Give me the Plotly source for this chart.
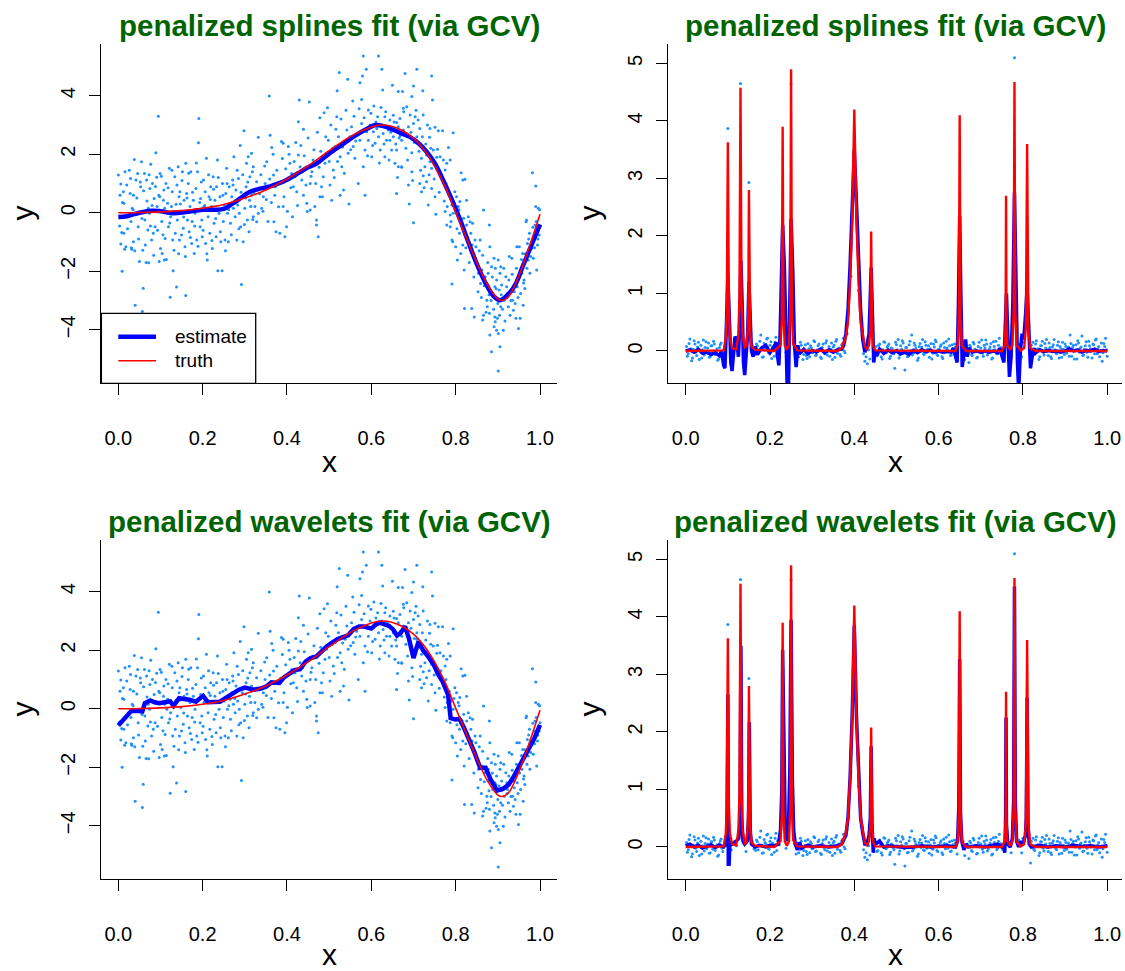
import plotly.graph_objects as go

# ---------------- data: smooth example (left panels) ----------------
left_pts = [
(0.000,1.29),(0.004,0.60),(0.006,0.98),(0.012,0.72),(0.013,0.32),(0.008,-0.68),(0.006,-1.07),(0.013,-0.70),(0.018,-1.16),(0.009,-2.00),(0.016,1.40),(0.024,-0.14),(0.028,0.66),(0.029,1.17),(0.032,-1.25),(0.036,-0.99),(0.036,0.60),(0.033,0.15),(0.030,-0.30),
(0.038,1.82),(0.040,-3.16),(0.042,1.12),(0.046,1.34),(0.047,-0.48),(0.050,-1.67),(0.053,0.89),(0.055,1.74),(0.057,-3.38),(0.058,-1.28),(0.059,-2.58),(0.062,1.34),(0.063,-0.25),(0.066,-1.70),(0.067,1.12),(0.070,-0.59),(0.071,0.15),(0.072,-1.71),(0.074,-0.02),(0.075,0.83),(0.077,1.66),(0.079,-0.93),(0.081,1.00),(0.083,-0.70),
(0.085,0.49),(0.087,-0.48),(0.089,2.05),(0.091,1.21),(0.092,0.21),(0.095,3.30),(0.096,0.60),(0.097,-1.67),(0.099,1.34),(0.100,-1.22),(0.103,-0.30),(0.104,-1.39),(0.107,0.43),(0.108,0.78),(0.109,-1.62),(0.111,-0.88),(0.113,1.00),(0.115,-0.02),(0.117,0.32),(0.119,-0.48),(0.121,1.52),(0.123,-2.89),(0.124,-0.14),(0.126,0.21),(0.128,0.72),(0.129,-0.93),(0.130,-1.98),
(0.132,-1.28),(0.134,1.23),(0.137,0.29),(0.138,-2.54),(0.140,-0.25),(0.142,1.57),(0.144,0.55),(0.145,-0.93),(0.146,0.72),(0.148,0.04),(0.150,-0.76),(0.152,1.40),(0.154,-0.53),(0.156,0.43),(0.158,-1.16),(0.160,-2.83),(0.160,1.69),(0.162,0.66),(0.164,-0.25),(0.166,1.00),(0.168,-0.65),(0.170,0.21),(0.172,1.40),(0.174,-1.05),(0.175,-0.30),(0.178,0.43),
(0.180,-1.39),(0.182,-0.02),(0.184,0.83),(0.186,-0.93),(0.188,1.40),(0.190,2.39),(0.191,3.22),(0.194,-0.48),(0.195,0.49),(0.198,-0.25),(0.199,-0.82),(0.202,1.12),(0.203,0.21),(0.206,0.72),(0.207,-1.05),(0.209,1.86),(0.211,-1.62),(0.213,-0.14),(0.215,0.55),(0.217,-0.70),(0.219,0.89),(0.221,0.21),(0.223,-1.22),(0.225,1.23),
(0.227,-0.36),(0.229,0.43),(0.232,-0.82),(0.233,0.89),(0.235,1.80),(0.236,-1.98),(0.239,-0.02),(0.241,0.55),(0.243,-0.99),(0.246,-1.98),(0.247,1.00),(0.249,-0.30),(0.251,0.26),(0.253,-0.93),(0.255,0.66),(0.257,1.52),(0.259,-0.02),(0.261,-0.99),(0.263,0.89),(0.265,0.32),(0.266,-0.36),(0.269,0.55),(0.271,1.12),(0.273,0.15),
(0.274,1.91),(0.277,-0.14),(0.279,0.78),(0.281,-0.93),(0.283,0.26),(0.285,1.17),(0.287,-0.02),(0.289,2.30),(0.290,-0.48),(0.292,-2.45),(0.294,0.55),(0.296,-0.99),(0.298,2.80),(0.300,0.15),(0.303,0.89),(0.304,1.69),(0.306,-0.25),(0.308,1.91),(0.311,0.43),(0.312,1.23),(0.314,0.21),(0.316,0.78),(0.318,1.40),(0.320,-0.14),(0.322,0.66),
(0.581,5.36),(0.617,5.36),(0.588,4.90),(0.524,4.79),(0.579,4.67),(0.625,4.90),(0.544,4.56),(0.573,4.44),(0.358,3.99),(0.627,4.19),(0.650,4.36),(0.664,4.14),(0.519,4.17),(0.429,3.85),(0.453,3.78),(0.439,2.85),(0.427,3.11),(0.488,3.42),(0.496,3.59),(0.478,3.25),(0.518,3.28),(0.556,3.82),(0.577,3.87),(0.593,3.51),(0.606,3.65),(0.615,3.28),(0.632,3.28),(0.638,2.92),(0.652,3.33),(0.660,3.08),(0.676,3.57),(0.668,2.62),(0.644,2.48),(0.660,2.14),(0.664,1.57),(0.672,1.55),(0.660,0.66),(0.585,0.60),(0.547,0.30),
(0.316,2.03),(0.332,2.58),(0.320,1.57),(0.328,1.06),(0.316,0.60),(0.324,0.21),(0.332,-0.02),(0.328,-0.31),(0.319,-0.23),(0.340,0.15),(0.344,0.55),(0.348,1.00),(0.352,1.74),(0.360,2.65),(0.364,2.23),(0.368,1.29),(0.372,0.89),(0.369,-0.31),(0.374,-0.65),(0.383,-0.70),(0.391,0.21),(0.395,-0.82),(0.399,-0.48),(0.387,2.43),(0.403,2.26),(0.391,2.37),(0.407,1.69),(0.411,1.34),(0.415,0.89),(0.413,-0.14),(0.419,1.23),(0.423,0.72),(0.427,1.97),(0.431,1.57),(0.435,1.12),(0.439,0.60),(0.447,0.32),(0.448,0.04),(0.455,1.00),(0.459,1.40),(0.462,1.80),(0.466,0.21),(0.470,-0.42),(0.474,-0.82),(0.478,0.55),(0.482,0.89),(0.486,1.23),(0.490,1.69),(0.494,2.03),(0.498,2.48),(0.502,0.95),(0.506,0.43),(0.510,1.46),(0.514,2.26),(0.522,2.60),(0.526,1.91),(0.530,1.57),(0.534,0.78),(0.526,0.60),(0.538,2.37),(0.542,2.83),(0.545,2.03),(0.549,2.60),(0.553,2.94),(0.557,2.26),(0.561,1.86),(0.565,2.65),(0.569,1.00),(0.573,2.48),(0.577,3.05),(0.581,1.57),(0.585,2.14),(0.589,2.77),(0.593,2.48),(0.597,3.00),(0.601,1.91),(0.605,2.77),(0.609,2.37),(0.613,2.88),(0.617,2.60),(0.621,2.14),(0.625,3.00),(0.628,2.71),(0.632,1.91),(0.636,2.48),(0.640,2.83),(0.644,3.17),(0.648,2.14),(0.652,2.60),(0.656,1.69),(0.664,2.94),(0.668,3.22),(0.672,2.48),(0.676,2.83),(0.455,0.09),(0.470,-0.25),
(0.680,4.76),(0.708,4.90),(0.743,4.67),(0.674,4.14),(0.722,4.17),(0.700,4.33),(0.696,3.97),(0.745,3.85),(0.684,3.62),(0.692,3.34),(0.677,3.45),(0.704,3.28),(0.711,3.17),(0.723,3.34),(0.688,2.94),(0.700,3.05),(0.715,2.88),(0.739,2.88),(0.751,2.92),(0.759,2.80),(0.769,2.80),(0.794,2.73),(0.708,2.60),(0.738,2.58),(0.783,2.23),(0.672,1.57),(0.696,2.05),(0.696,1.40),(0.708,2.37),(0.719,1.86),(0.727,1.57),(0.731,1.97),(0.739,1.74),(0.743,1.52),(0.747,2.14),(0.757,2.17),(0.763,1.91),(0.771,1.80),(0.775,1.46),(0.779,1.69),(0.787,1.80),(0.715,1.00),(0.723,1.26),(0.731,1.06),(0.743,0.83),(0.751,0.55),(0.753,-0.05),(0.735,0.26),(0.700,-0.34),(0.690,0.30),(0.688,0.95),(0.719,0.72),
(0.775,0.04),(0.780,0.21),(0.787,-0.08),(0.791,0.26),(0.794,-0.02),(0.798,0.72),(0.802,0.55),(0.806,0.21),(0.810,0.38),(0.813,1.37),(0.817,1.12),(0.822,1.14),(0.826,0.43),(0.819,-0.19),(0.787,-0.48),(0.779,-0.42),(0.791,-0.93),(0.793,-0.99),(0.800,-1.16),(0.804,-1.62),(0.809,-0.70),(0.812,-1.39),(0.817,-1.10),(0.820,-1.96),(0.822,-0.70),(0.826,-0.42),(0.830,-0.14),(0.834,-0.31),(0.836,-0.70),(0.840,-0.36),(0.842,-1.39),(0.846,-0.93),(0.848,-1.16),(0.851,-1.73),(0.791,-2.44),(0.854,-2.07),(0.858,-0.93),(0.859,-2.42),(0.862,-1.96),(0.864,-1.45),(0.866,0.09),(0.870,-2.19),(0.874,-2.99),(0.877,-2.07),(0.880,-0.42),(0.881,-1.16),(0.885,-1.85),(0.888,-2.76),(0.891,-1.56),(0.893,-2.53),(0.894,-1.90),(0.897,-2.30),(0.901,-1.62),(0.903,-2.64),(0.905,-2.07),(0.907,-1.85),
(0.821,-3.27),(0.838,-3.27),(0.844,-3.56),(0.864,-3.67),(0.866,-3.50),(0.875,-3.21),(0.877,-2.47),(0.880,-3.44),(0.881,-4.18),(0.885,-4.75),(0.891,-3.90),(0.893,-3.56),(0.894,-3.73),(0.897,-4.02),(0.899,-3.61),(0.901,-5.41),(0.901,-4.13),(0.905,-4.58),(0.907,-3.21),(0.909,-2.47),(0.913,-4.02),(0.915,-2.99),(0.919,-2.19),(0.921,-2.53),(0.923,-2.76),(0.925,-3.21),(0.927,-1.50),(0.929,-3.50),(0.933,-1.56),(0.935,-2.99),(0.937,-3.33),(0.938,-2.47),(0.941,-3.10),(0.943,-3.61),(0.945,-1.16),(0.946,-2.53),(0.949,-3.96),(0.951,-1.16),(0.953,-3.61),(0.954,-2.76),(0.957,-2.07),(0.959,-1.39),(0.960,-3.16),(0.962,-2.30),(0.964,-2.59),(0.967,-0.31),(0.968,-0.25),(0.970,-1.05),(0.972,-1.62),(0.975,-0.70),(0.976,-2.07),(0.980,-1.22),(0.982,1.37),(0.984,-1.56),(0.986,-0.76),(0.988,-0.42),(0.990,0.91),(0.990,0.21),(0.992,-1.96),(0.994,-1.10),(0.996,0.15),(0.998,-0.76),(1.000,-0.48),
# second reading pass
(0.003,-0.45),(0.010,0.35),(0.015,-1.25),(0.020,0.95),(0.022,-0.55),(0.026,1.45),(0.031,-1.2),(0.035,0.1),(0.039,-1.3),(0.044,0.5),(0.048,-0.9),(0.052,1.05),(0.056,-0.2),(0.060,0.75),(0.064,-1.1),(0.068,0.4),(0.073,1.3),(0.076,-0.45),(0.080,0.25),(0.084,-1.45),(0.088,0.9),(0.093,-0.6),(0.098,0.55),(0.102,1.25),(0.106,-0.75),(0.110,0.15),(0.114,-1.6),(0.118,0.85),(0.122,-0.35),(0.127,1.45),(0.131,0.05),(0.135,-0.7),(0.139,0.95),(0.143,-1.4),(0.147,0.3),(0.151,1.1),(0.155,-0.15),(0.159,-1.5),(0.163,0.5),(0.167,1.35),(0.171,-0.85),(0.176,0.7),(0.181,-0.45),(0.185,1.7),(0.189,-1.15),(0.193,0.35),(0.197,1.05),(0.201,-0.6),(0.205,0.25),(0.210,-1.4),(0.214,1.3),(0.218,0.45),(0.222,-0.95),(0.226,0.8),(0.231,-0.2),(0.237,1.2),(0.242,-0.65),(0.248,0.6),(0.254,-1.3),(0.258,1.0),(0.262,0.1),(0.268,-0.75),(0.272,0.95),(0.276,0.35),(0.282,1.45),(0.286,-0.55),(0.291,0.7),(0.295,1.3),(0.299,-0.4),(0.302,0.5),(0.307,1.05),(0.310,-0.65),
(0.335,0.65),(0.338,1.3),(0.343,0.05),(0.347,1.6),(0.351,0.45),(0.355,-0.3),(0.359,1.15),(0.363,0.35),(0.367,2.0),(0.371,0.6),(0.376,1.45),(0.380,0.2),(0.385,1.05),(0.389,1.85),(0.393,0.55),(0.397,1.5),(0.401,0.05),(0.405,2.0),(0.409,0.85),(0.417,1.75),(0.421,2.4),(0.425,0.25),(0.433,2.3),(0.437,1.4),(0.441,1.95),(0.445,0.95),(0.450,2.55),(0.457,1.25),(0.464,2.15),(0.468,1.0),(0.472,2.75),(0.476,1.55),(0.480,2.1),(0.484,0.55),(0.492,2.6),(0.500,1.75),(0.504,3.0),(0.508,2.2),(0.512,1.2),(0.516,2.85),(0.520,1.75),(0.528,3.2),(0.532,2.25),(0.536,1.35),(0.540,3.5),(0.551,2.15),(0.559,3.3),(0.563,2.45),(0.571,3.55),(0.583,3.25),(0.591,1.95),(0.599,3.4),(0.603,2.3),(0.611,3.1),(0.619,1.7),(0.623,3.6),(0.630,2.35),(0.634,3.45),(0.642,1.8),(0.646,2.75),(0.654,3.1),(0.658,2.35),(0.662,1.2),(0.666,2.55),
(0.682,2.2),(0.686,1.8),(0.694,2.75),(0.698,1.1),(0.702,2.4),(0.706,3.5),(0.713,2.1),(0.717,1.45),(0.721,2.6),(0.725,0.85),(0.729,2.35),(0.733,3.0),(0.737,1.3),(0.741,2.2),(0.749,1.15),(0.755,1.9),(0.761,0.7),(0.765,1.3),(0.773,0.4),(0.777,1.0),(0.785,0.6),(0.789,-0.3),(0.796,0.35),(0.803,-0.55),(0.808,0.1),
(0.815,-0.4),(0.824,-1.2),(0.828,-0.85),(0.832,-1.7),(0.839,-1.1),(0.843,-2.2),(0.847,-1.55),(0.853,-2.7),(0.856,-1.3),(0.861,-2.9),(0.868,-2.5),(0.872,-3.4),(0.876,-1.7),(0.879,-2.8),(0.884,-3.0),(0.887,-2.2),(0.890,-3.3),(0.896,-2.6),(0.900,-3.1),(0.904,-3.5),(0.908,-2.8),(0.911,-3.3),(0.914,-1.9),(0.917,-3.7),(0.922,-2.9),(0.926,-2.3),(0.931,-3.0),(0.934,-2.1),(0.939,-2.7),(0.944,-1.9),(0.948,-2.9),(0.952,-2.2),(0.956,-1.6),(0.961,-2.4),(0.965,-1.4),(0.969,-1.9),(0.973,-0.9),(0.978,-1.5),(0.983,-0.5),(0.987,-1.2),(0.991,-0.3),(0.995,-0.9),(0.999,0.1),
]
left_x = [p[0] for p in left_pts]
left_y = [p[1] for p in left_pts]

left_truth_x = [0.0,0.05,0.1,0.15,0.2,0.25,0.3,0.35,0.4,0.45,0.5,0.55,0.6,0.625,0.65,0.675,0.7,0.725,0.75,0.775,0.8,0.825,0.85,0.875,0.9,0.91,0.925,0.95,0.975,1.0]
left_truth_y = [0.0,0.01,0.03,0.07,0.15,0.28,0.5,0.78,1.15,1.6,2.12,2.6,2.93,3.0,2.95,2.8,2.55,2.15,1.6,0.9,0.02,-0.85,-1.7,-2.45,-2.95,-3.0,-2.88,-2.15,-1.15,-0.05]

spline_est_x = [0.0,0.02,0.05,0.08,0.1,0.13,0.16,0.2,0.23,0.25,0.27,0.29,0.31,0.33,0.36,0.38,0.4,0.43,0.45,0.47,0.5,0.53,0.56,0.59,0.61,0.63,0.65,0.67,0.69,0.71,0.73,0.75,0.77,0.79,0.81,0.83,0.85,0.87,0.89,0.905,0.92,0.94,0.96,0.98,1.0]
spline_est_y = [-0.15,-0.12,0.0,0.07,0.05,-0.02,0.02,0.1,0.1,0.13,0.3,0.5,0.7,0.8,0.9,1.0,1.13,1.38,1.55,1.68,2.02,2.32,2.62,2.87,3.0,2.95,2.85,2.72,2.6,2.4,2.1,1.7,1.12,0.48,-0.22,-1.0,-1.75,-2.38,-2.85,-2.99,-2.85,-2.5,-1.8,-1.1,-0.4]

wave_est_x = [0.0,0.017,0.03,0.04,0.05,0.057,0.063,0.076,0.086,0.097,0.11,0.123,0.131,0.144,0.156,0.169,0.184,0.201,0.213,0.228,0.241,0.254,0.27,0.286,0.3,0.313,0.321,0.338,0.351,0.363,0.376,0.382,0.393,0.406,0.418,0.431,0.444,0.456,0.469,0.482,0.494,0.507,0.52,0.533,0.545,0.558,0.571,0.583,0.6,0.609,0.619,0.63,0.642,0.651,0.661,0.669,0.68,0.689,0.7,0.712,0.723,0.735,0.748,0.759,0.769,0.782,0.788,0.799,0.809,0.82,0.833,0.845,0.858,0.871,0.883,0.898,0.913,0.926,0.938,0.955,0.972,0.987,1.0]
wave_est_y = [-0.57,-0.32,-0.09,-0.07,-0.09,-0.09,0.19,0.28,0.22,0.19,0.22,0.25,0.1,0.36,0.33,0.31,0.24,0.44,0.22,0.22,0.24,0.36,0.51,0.65,0.72,0.69,0.65,0.69,0.76,0.9,0.91,0.88,1.07,1.22,1.32,1.35,1.61,1.73,1.78,1.95,2.13,2.26,2.38,2.45,2.51,2.72,2.81,2.81,2.74,2.86,2.94,2.89,2.83,2.72,2.5,2.58,2.81,2.41,1.73,2.3,1.99,1.78,1.5,1.16,0.93,0.48,-0.32,-0.37,-0.35,-0.66,-1.06,-1.51,-2.02,-2.02,-2.42,-2.8,-2.73,-2.59,-2.31,-1.85,-1.4,-1.0,-0.55]

# ---------------- data: bumps example (right panels) ----------------
right_pts = [
(0.002,0.08),(0.006,-0.05),(0.010,0.21),(0.014,-0.17),(0.018,0.03),(0.022,0.12),(0.026,-0.08),(0.030,0.15),(0.034,0.01),(0.038,-0.12),(0.042,0.19),(0.046,0.06),(0.050,-0.03),(0.054,0.14),(0.058,-0.10),(0.062,0.09),(0.066,0.17),(0.070,-0.06),(0.074,0.04),(0.078,-0.14),(0.082,0.11),(0.086,-0.02),
(0.092,0.05),(0.095,0.12),(0.100,3.87),(0.108,-0.05),(0.116,0.10),(0.120,0.02),(0.130,4.65),(0.138,0.06),(0.143,-0.08),(0.150,2.93),(0.158,0.10),(0.162,-0.03),
(0.166,-0.06),(0.170,0.09),(0.174,0.02),(0.178,0.28),(0.182,-0.11),(0.186,0.13),(0.190,0.05),(0.194,0.22),(0.198,-0.04),(0.202,0.16),(0.206,0.07),(0.210,-0.09),(0.214,0.24),(0.218,0.11),
(0.222,0.04),(0.238,-0.02),(0.243,0.15),(0.250,4.65),(0.258,0.06),
(0.262,-0.12),(0.266,0.05),(0.270,-0.04),(0.274,0.10),(0.278,-0.15),(0.282,0.02),(0.286,-0.08),(0.290,0.13),(0.294,-0.10),(0.298,0.06),(0.302,-0.02),(0.306,0.16),(0.310,-0.07),(0.314,0.09),(0.318,0.03),(0.322,-0.13),(0.326,0.12),(0.330,-0.05),(0.334,0.18),(0.338,0.00),(0.342,-0.09),(0.346,0.14),(0.350,0.07),(0.354,-0.11),(0.358,0.20),(0.362,0.04),(0.366,-0.06),(0.370,0.11),(0.374,0.22),(0.378,-0.03),
(0.383,0.30),(0.392,1.30),(0.410,1.05),(0.418,0.35),(0.422,-0.05),(0.425,-0.18),(0.428,-0.10),(0.431,-0.22),(0.434,0.02),(0.437,-0.14),(0.447,-0.08),
(0.452,0.08),(0.456,-0.06),(0.460,0.12),(0.464,-0.10),(0.468,0.02),(0.472,0.15),(0.476,-0.03),(0.480,0.09),(0.484,-0.13),(0.488,0.05),(0.492,-0.01),(0.496,-0.30),(0.500,0.11),(0.504,0.20),(0.508,-0.07),(0.512,0.03),(0.516,0.14),(0.520,-0.33),(0.524,0.06),(0.528,-0.09),(0.532,0.17),(0.536,0.28),(0.540,-0.04),(0.544,0.10),(0.548,0.01),(0.552,-0.12),(0.556,0.13),(0.560,0.07),(0.564,-0.05),(0.568,0.16),(0.572,-0.02),(0.576,0.09),(0.580,0.04),(0.584,-0.14),(0.588,0.12),(0.592,0.19),(0.596,-0.06),(0.600,0.03),(0.604,0.08),(0.608,-0.10),(0.612,0.14),(0.616,-0.03),(0.620,0.05),(0.624,0.21),(0.628,-0.08),(0.632,0.11),(0.636,0.00),(0.640,0.07),
(0.644,-0.12),(0.658,0.10),(0.662,-0.15),(0.668,0.05),
(0.672,-0.20),(0.676,0.07),(0.680,-0.08),(0.684,0.12),(0.688,0.02),(0.692,-0.11),(0.696,0.15),(0.700,0.05),(0.704,-0.04),(0.708,0.10),(0.712,0.19),(0.716,-0.07),(0.720,0.03),(0.724,0.13),(0.728,-0.12),(0.732,0.08),(0.736,0.17),(0.740,-0.02),(0.744,0.22),(0.748,0.06),
(0.752,-0.05),(0.768,0.08),(0.772,-0.10),(0.780,5.10),(0.790,0.12),(0.797,-0.10),(0.800,0.15),(0.818,-0.28),(0.820,0.10),
(0.824,0.15),(0.828,-0.06),(0.832,0.18),(0.836,0.04),(0.840,-0.10),(0.844,0.09),(0.848,-0.02),(0.852,0.13),(0.856,0.20),(0.860,-0.08),(0.864,0.06),(0.868,-0.13),(0.872,0.11),(0.876,0.02),(0.880,-0.05),(0.884,0.16),(0.888,0.08),(0.892,-0.11),(0.896,0.03),(0.900,0.12),(0.904,-0.04),(0.908,0.07),(0.912,0.28),(0.916,-0.09),(0.920,0.10),(0.924,0.00),(0.928,-0.14),(0.932,0.14),(0.936,0.05),(0.940,0.26),(0.944,-0.07),(0.948,0.09),(0.952,-0.02),(0.956,0.17),(0.960,0.04),(0.964,-0.12),(0.968,0.11),(0.972,0.19),(0.976,-0.05),(0.980,0.08),(0.984,0.00),(0.988,-0.18),(0.992,0.13),(0.996,0.22),(1.000,-0.09),
# second reading pass
(0.004,-0.09),(0.008,0.13),(0.012,0.04),(0.016,-0.12),(0.020,0.18),(0.024,-0.02),(0.028,0.07),(0.032,-0.15),(0.036,0.10),(0.040,0.02),(0.044,-0.07),(0.048,0.16),(0.052,0.05),(0.056,-0.11),(0.060,0.09),(0.064,-0.04),(0.068,0.12),(0.072,0.00),(0.076,-0.16),(0.080,0.06),(0.084,0.14),(0.088,-0.08),
(0.168,0.12),(0.172,-0.05),(0.176,0.17),(0.180,0.03),(0.184,-0.10),(0.188,0.08),(0.192,0.21),(0.196,-0.02),(0.200,0.10),(0.204,-0.13),(0.208,0.04),(0.212,0.15),(0.216,-0.06),
(0.264,0.07),(0.268,-0.10),(0.272,0.15),(0.276,0.01),(0.280,-0.06),(0.284,0.11),(0.288,-0.13),(0.292,0.04),(0.296,0.09),(0.300,-0.03),(0.304,0.18),(0.308,-0.08),(0.312,0.02),(0.316,0.12),(0.320,-0.11),(0.324,0.06),(0.328,-0.01),(0.332,0.14),(0.336,-0.07),(0.340,0.08),(0.344,0.03),(0.348,-0.15),(0.352,0.10),(0.356,0.17),(0.360,-0.04),(0.364,0.05),(0.368,-0.09),(0.372,0.13),(0.376,0.00),
(0.454,-0.08),(0.458,0.10),(0.462,0.03),(0.466,-0.14),(0.470,0.16),(0.474,-0.02),(0.478,0.07),(0.482,0.12),(0.486,-0.09),(0.490,0.04),(0.494,-0.05),(0.498,0.15),(0.502,0.02),(0.506,-0.12),(0.510,0.09),(0.514,0.18),(0.518,-0.03),(0.522,0.06),(0.526,-0.10),(0.530,0.11),(0.534,0.01),(0.538,-0.07),(0.542,0.14),(0.546,0.05),(0.550,-0.16),(0.554,0.08),(0.558,-0.01),(0.562,0.20),(0.566,-0.06),(0.570,0.10),(0.574,0.03),(0.578,-0.11),(0.582,0.13),(0.586,-0.04),(0.590,0.07),(0.594,0.16),(0.598,-0.08),(0.602,0.02),(0.606,0.11),(0.610,-0.13),(0.614,0.06),(0.618,0.17),(0.622,-0.02),(0.626,0.09),(0.630,-0.07),(0.634,0.04),(0.638,0.12),
(0.674,0.10),(0.678,-0.06),(0.682,0.15),(0.686,0.03),(0.690,-0.12),(0.694,0.08),(0.698,0.00),(0.702,0.19),(0.706,-0.09),(0.710,0.05),(0.714,0.12),(0.718,-0.03),(0.722,0.07),(0.726,-0.14),(0.730,0.16),(0.734,0.02),(0.738,-0.05),(0.742,0.10),(0.746,0.04),
(0.826,-0.04),(0.830,0.12),(0.834,0.03),(0.838,-0.15),(0.842,0.09),(0.846,0.17),(0.850,-0.07),(0.854,0.05),(0.858,-0.01),(0.862,0.14),(0.866,-0.10),(0.870,0.07),(0.874,0.20),(0.878,-0.03),(0.882,0.10),(0.886,-0.12),(0.890,0.04),(0.894,0.15),(0.898,-0.06),(0.902,0.08),(0.906,0.01),(0.910,-0.09),(0.914,0.13),(0.918,0.06),(0.922,-0.14),(0.926,0.11),(0.930,0.18),(0.934,-0.02),(0.938,0.07),(0.942,-0.08),(0.946,0.03),(0.950,0.16),(0.954,-0.11),(0.958,0.09),(0.962,0.00),(0.966,0.12),(0.970,-0.05),(0.974,0.21),(0.978,0.04),(0.982,-0.10),(0.986,0.14),(0.990,-0.03),(0.994,0.08),(0.998,0.02),
]
right_x = [p[0] for p in right_pts]
right_y = [p[1] for p in right_pts]

bumps_truth = [
(0.0,0.0),(0.09,0.01),(0.095,0.23),(0.0975,0.72),(0.1,3.63),(0.1025,0.72),(0.105,0.23),(0.11,0.05),
(0.12,0.03),(0.125,0.29),(0.1275,0.91),(0.13,4.58),(0.1325,0.91),(0.135,0.29),(0.14,0.06),
(0.144,0.08),(0.147,0.35),(0.1485,0.72),(0.15,2.8),(0.1515,0.72),(0.153,0.35),(0.156,0.08),(0.165,0.02),
(0.21,0.0),(0.225,0.1),(0.228,0.6),(0.23,3.9),(0.232,0.6),(0.235,0.1),(0.24,0.02),(0.245,0.1),(0.248,0.7),(0.25,4.9),(0.252,0.7),(0.255,0.12),(0.265,0.01),
(0.36,0.0),(0.37,0.05),(0.38,0.25),(0.385,0.5),(0.39,1.2),(0.395,2.3),(0.4,4.2),(0.405,2.3),(0.41,1.2),(0.415,0.5),(0.42,0.25),(0.425,0.08),(0.43,0.03),
(0.435,0.1),(0.438,0.4),(0.44,2.08),(0.442,0.4),(0.445,0.08),(0.45,0.01),
(0.64,0.0),(0.645,0.1),(0.648,0.6),(0.65,4.1),(0.652,0.6),(0.655,0.1),(0.665,0.0),
(0.75,0.0),(0.757,0.1),(0.759,0.5),(0.76,2.7),(0.761,0.5),(0.763,0.1),(0.77,0.02),
(0.775,0.1),(0.778,0.7),(0.78,4.68),(0.782,0.7),(0.785,0.1),(0.795,0.01),
(0.803,0.05),(0.807,0.4),(0.81,3.6),(0.813,0.4),(0.817,0.05),(0.83,0.0),(1.0,0.0),
]
bumps_truth_x = [p[0] for p in bumps_truth]
bumps_truth_y = [p[1] for p in bumps_truth]

bumps_spline = [
(0.0,0.0),(0.01,0.02),(0.02,-0.02),(0.03,0.03),(0.04,-0.04),(0.05,-0.02),(0.06,-0.06),(0.07,-0.03),(0.08,-0.08),(0.085,0.0),(0.09,-0.25),(0.093,-0.3),(0.096,0.3),(0.1,1.3),(0.104,0.5),(0.107,-0.2),(0.11,-0.35),(0.113,0.0),(0.117,0.25),(0.121,0.2),(0.125,-0.1),(0.128,0.4),(0.131,1.57),(0.134,0.8),(0.137,-0.2),(0.14,-0.42),(0.143,-0.1),(0.147,0.3),(0.15,1.2),(0.153,0.6),(0.156,0.0),(0.16,-0.1),(0.165,0.08),(0.17,-0.06),(0.18,0.05),(0.19,0.1),(0.2,-0.03),(0.21,0.08),(0.215,0.15),(0.218,-0.1),(0.221,-0.25),(0.224,0.3),(0.227,1.5),(0.23,2.2),(0.234,1.5),(0.238,0.0),(0.241,-0.7),(0.244,-0.6),(0.247,0.8),(0.25,2.3),(0.254,1.4),(0.258,0.1),(0.262,-0.28),(0.266,0.1),(0.27,-0.05),(0.28,0.03),(0.29,-0.05),(0.3,0.01),(0.31,-0.02),(0.32,0.03),(0.33,-0.03),(0.34,0.02),(0.35,-0.02),(0.36,0.02),(0.37,0.03),(0.375,0.1),(0.38,0.3),(0.385,0.7),(0.39,1.5),(0.395,2.6),(0.4,3.5),(0.405,2.6),(0.41,1.5),(0.415,0.7),(0.42,0.2),(0.425,-0.02),(0.43,0.1),(0.435,0.3),(0.44,1.45),(0.443,0.5),(0.446,-0.2),(0.45,0.0),(0.455,-0.05),(0.46,0.03),(0.47,-0.04),(0.48,0.02),(0.49,-0.03),(0.5,0.0),(0.51,-0.05),(0.52,-0.02),(0.53,-0.06),(0.54,0.01),(0.55,-0.03),(0.56,0.02),(0.57,-0.01),(0.58,0.01),(0.59,-0.02),(0.6,0.0),(0.61,-0.02),(0.62,0.0),(0.63,-0.02),(0.635,0.05),(0.64,-0.1),(0.644,-0.2),(0.647,0.8),(0.65,2.35),(0.653,0.9),(0.656,-0.28),(0.66,-0.05),(0.664,0.2),(0.668,-0.1),(0.672,0.05),(0.68,-0.02),(0.69,0.0),(0.7,-0.02),(0.71,0.0),(0.72,-0.02),(0.73,0.0),(0.74,-0.03),(0.745,0.05),(0.75,-0.08),(0.755,-0.2),(0.758,0.4),(0.761,1.0),(0.764,0.3),(0.768,-0.45),(0.772,-0.1),(0.776,0.8),(0.78,2.75),(0.783,1.2),(0.787,-0.2),(0.79,-0.7),(0.794,0.0),(0.798,0.3),(0.802,0.2),(0.806,0.6),(0.81,1.1),(0.814,0.4),(0.818,-0.3),(0.822,-0.1),(0.826,0.05),(0.83,-0.03),(0.84,0.02),(0.85,-0.01),(0.86,0.01),(0.87,-0.01),(0.88,0.0),(0.89,-0.02),(0.9,0.0),(0.91,0.04),(0.92,0.0),(0.93,0.02),(0.94,-0.02),(0.95,0.01),(0.96,0.0),(0.97,0.03),(0.98,-0.01),(0.99,0.01),(1.0,0.0),
]
bumps_spline_x = [p[0] for p in bumps_spline]
bumps_spline_y = [p[1] for p in bumps_spline]

bumps_wave = [
(0.0,0.02),(0.01,0.05),(0.02,0.0),(0.03,0.03),(0.04,-0.02),(0.05,0.01),(0.06,0.04),(0.07,-0.01),(0.08,0.03),(0.09,0.0),(0.096,0.05),(0.098,0.3),(0.1,2.65),(0.101,-0.3),(0.103,-0.3),(0.105,0.1),(0.11,0.05),(0.12,0.1),(0.126,0.15),(0.129,0.5),(0.131,3.5),(0.133,0.5),(0.136,0.1),(0.14,0.05),(0.146,0.1),(0.149,0.5),(0.151,2.17),(0.153,0.3),(0.156,0.05),(0.165,0.0),(0.175,0.03),(0.19,0.0),(0.2,0.03),(0.21,0.02),(0.22,0.05),(0.225,0.3),(0.228,1.0),(0.23,3.43),(0.233,1.2),(0.236,0.4),(0.24,0.1),(0.244,0.4),(0.247,1.3),(0.25,3.95),(0.253,1.2),(0.256,0.3),(0.26,0.05),(0.265,-0.05),(0.27,0.08),(0.275,-0.02),(0.28,0.0),(0.29,0.03),(0.3,0.0),(0.32,0.02),(0.34,0.0),(0.36,0.02),(0.37,0.05),(0.38,0.2),(0.385,0.5),(0.39,1.2),(0.395,2.3),(0.4,3.85),(0.405,2.3),(0.41,1.2),(0.415,0.5),(0.42,0.25),(0.425,0.05),(0.43,0.05),(0.435,0.2),(0.438,0.5),(0.44,1.75),(0.442,0.4),(0.445,-0.1),(0.447,0.15),(0.45,0.05),(0.46,0.1),(0.47,0.0),(0.48,0.02),(0.5,0.0),(0.52,-0.01),(0.54,0.0),(0.56,0.02),(0.58,0.0),(0.6,0.01),(0.62,0.02),(0.64,0.0),(0.645,0.1),(0.648,0.7),(0.65,3.27),(0.652,0.6),(0.655,0.1),(0.66,-0.05),(0.665,0.05),(0.67,0.0),(0.69,0.02),(0.71,0.0),(0.73,0.03),(0.74,0.05),(0.75,0.0),(0.755,0.05),(0.757,-0.1),(0.759,0.5),(0.76,2.25),(0.761,0.4),(0.764,0.05),(0.77,0.0),(0.775,0.15),(0.778,0.8),(0.78,4.53),(0.782,0.8),(0.785,0.1),(0.79,0.0),(0.795,0.1),(0.8,0.05),(0.806,0.2),(0.808,0.5),(0.81,2.6),(0.812,0.4),(0.815,0.05),(0.82,0.0),(0.84,0.03),(0.86,0.0),(0.88,0.02),(0.9,0.0),(0.92,0.03),(0.94,0.01),(0.96,0.02),(0.98,0.0),(1.0,0.02),
]
bumps_wave_x = [p[0] for p in bumps_wave]
bumps_wave_y = [p[1] for p in bumps_wave]

x_ticks = [0.0, 0.2, 0.4, 0.6, 0.8, 1.0]
x_tick_text = ["0.0", "0.2", "0.4", "0.6", "0.8", "1.0"]
left_y_ticks = [-4, -2, 0, 2, 4]
left_y_text = ["\u22124", "\u22122", "0", "2", "4"]
right_y_ticks = [0, 1, 2, 3, 4, 5]
right_y_text = ["0", "1", "2", "3", "4", "5"]
titles = ["penalized splines fit (via GCV)", "penalized splines fit (via GCV)",
          "penalized wavelets fit (via GCV)", "penalized wavelets fit (via GCV)"]

# ---------------- layout geometry ----------------
W, H = 1125, 971
FONT = "Liberation Sans, Arial, Helvetica, sans-serif"
PT = "#1E90FF"

def fx(p):
    return p / W

def fy(p):
    return 1 - p / H

xL = [fx(101.4), fx(556.7)]
xR = [fx(668.3), fx(1122.0)]
yT = [fy(383.3), fy(43.6)]
yB = [fy(879.3), fy(539.6)]

fig = go.Figure()

panels = [
    ("x", "y", left_x, left_y, spline_est_x, spline_est_y, left_truth_x, left_truth_y, 4.5, 1.6, "spline"),
    ("x2", "y2", right_x, right_y, bumps_spline_x, bumps_spline_y, bumps_truth_x, bumps_truth_y, 3.5, 2.4, "linear"),
    ("x3", "y3", left_x, left_y, wave_est_x, wave_est_y, left_truth_x, left_truth_y, 4.5, 1.6, "linear"),
    ("x4", "y4", right_x, right_y, bumps_wave_x, bumps_wave_y, bumps_truth_x, bumps_truth_y, 3.5, 2.4, "linear"),
]
for i, (xa, ya, px_, py_, ex, ey, tx, ty, ew, tw, es) in enumerate(panels):
    fig.add_trace(go.Scatter(x=px_, y=py_, mode="markers", xaxis=xa, yaxis=ya,
                             marker=dict(size=3, color=PT, line=dict(width=0)),
                             showlegend=False, hoverinfo="skip"))
    fig.add_trace(go.Scatter(x=ex, y=ey, mode="lines", xaxis=xa, yaxis=ya,
                             line=dict(color="#0000FF", width=ew, shape=es),
                             showlegend=False, name="estimate"))
    truth_shape = "spline" if i in (0, 2) else "linear"
    fig.add_trace(go.Scatter(x=tx, y=ty, mode="lines", xaxis=xa, yaxis=ya,
                             line=dict(color="#FF0000", width=tw, shape=truth_shape),
                             showlegend=False, name="truth"))

axis_common = dict(showline=True, linecolor="black", linewidth=1.3, ticks="outside",
                   ticklen=11, tickwidth=1.3, tickcolor="black", showgrid=False,
                   zeroline=False, tickfont=dict(family=FONT, size=20, color="black"))

xaxes = {"xaxis": (xL, "y", [-0.0401, 1.0396]), "xaxis2": (xR, "y2", [-0.0413, 1.0351]),
         "xaxis3": (xL, "y3", [-0.0401, 1.0396]), "xaxis4": (xR, "y4", [-0.0413, 1.0351])}
yaxes = {"yaxis": (yT, "x", [-5.83, 5.78], left_y_ticks, left_y_text),
         "yaxis2": (yT, "x2", [-0.562, 5.346], right_y_ticks, right_y_text),
         "yaxis3": (yB, "x3", [-5.83, 5.78], left_y_ticks, left_y_text),
         "yaxis4": (yB, "x4", [-0.562, 5.346], right_y_ticks, right_y_text)}
lay = {}
for k, (dom, anc, rng) in xaxes.items():
    lay[k] = dict(axis_common, domain=dom, anchor=anc, range=rng, ticklabelstandoff=26,
                  tickmode="array", tickvals=x_ticks, ticktext=x_tick_text)
for k, (dom, anc, rng, tv, tt) in yaxes.items():
    lay[k] = dict(axis_common, domain=dom, anchor=anc, range=rng, ticklabelstandoff=6,
                  tickmode="array", tickvals=tv, ticktext=tt, tickangle=-90)

annotations = []
centers = [(329.0, 0), (895.0, 0), (329.0, 496), (895.0, 496)]
ylab_x = [22.0, 589.0, 22.0, 589.0]
xlab_y = [461.0, 461.0, 954.0, 954.0]
for (cx, off), t, yx, xy in zip(centers, titles, ylab_x, xlab_y):
    annotations.append(dict(text="<b>%s</b>" % t, x=fx(cx), y=fy(25 + off), xref="paper", yref="paper",
                            xanchor="center", yanchor="middle", showarrow=False,
                            font=dict(family=FONT, size=29.5, color="#006400")))
    annotations.append(dict(text="x", x=fx(cx), y=fy(xy), xref="paper", yref="paper",
                            xanchor="center", yanchor="middle", showarrow=False,
                            font=dict(family=FONT, size=30, color="black")))
    annotations.append(dict(text="y", x=fx(yx), y=fy(213.5 + off), xref="paper", yref="paper",
                            xanchor="center", yanchor="middle", showarrow=False, textangle=-90,
                            font=dict(family=FONT, size=30, color="black")))

# legend (top-left panel), drawn as a framed key
legend_labels = ["estimate", "truth"]
legend_colors = ["#0000FF", "#FF0000"]
legend_widths = [4.5, 1.6]
legend_rows = [336.7, 360.7]
shapes = [dict(type="rect", xref="paper", yref="paper", x0=fx(101.4), x1=fx(255.7),
               y0=fy(383.3), y1=fy(313.3), line=dict(color="black", width=1.3),
               fillcolor="white", layer="above")]
for lab, col, lw, ry in zip(legend_labels, legend_colors, legend_widths, legend_rows):
    shapes.append(dict(type="line", xref="paper", yref="paper", x0=fx(118.3), x1=fx(156.0),
                       y0=fy(ry), y1=fy(ry), line=dict(color=col, width=lw), layer="above"))
    annotations.append(dict(text=lab, x=fx(172.7), y=fy(ry), xref="paper", yref="paper",
                            xanchor="left", yanchor="middle", showarrow=False,
                            font=dict(family=FONT, size=19, color="black")))

fig.update_layout(width=W, height=H, margin=dict(l=0, r=0, t=0, b=0),
                  paper_bgcolor="white", plot_bgcolor="white", showlegend=False,
                  annotations=annotations, shapes=shapes, **lay)

fig.write_html("out.html")
